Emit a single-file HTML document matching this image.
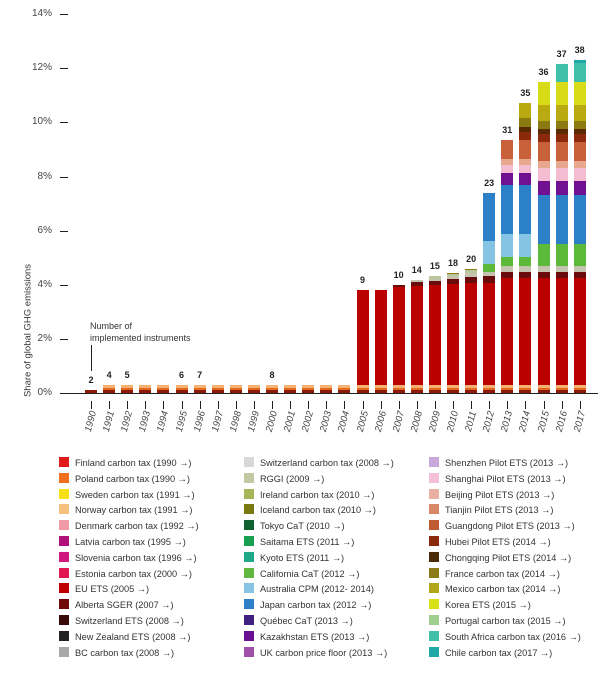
<!DOCTYPE html>
<html><head><meta charset="utf-8"><style>
body{margin:0;width:613px;height:674px;background:#fff;font-family:"Liberation Sans",sans-serif;position:relative;overflow:hidden}
.a{position:absolute}
.yl{font-size:10px;color:#444;width:30px;text-align:right;left:22px}
.tk{left:60px;width:8px;height:1px;background:#222}
.bar{position:absolute;width:12px}
.n{position:absolute;font-size:9px;font-weight:bold;color:#222;width:20px;text-align:center}
.yr{position:absolute;font-size:9.5px;color:#444;font-style:italic;transform:rotate(-75deg);transform-origin:center;width:26px;text-align:center}
.lg{position:absolute;font-size:9.2px;color:#333;white-space:nowrap}
.lg i{display:inline-block;width:10px;height:10px;vertical-align:-1px;margin-right:6px}
</style></head><body>
<div id="c"></div>
<div class="a" style="left:-52px;top:325px;transform:rotate(-90deg);font-size:9.5px;color:#333;width:160px;text-align:center;white-space:nowrap">Share of global GHG emissions</div>
<div class="a" style="left:68px;top:393px;width:530px;height:1px;background:#222"></div>
<div class="a" style="left:90px;top:320px;font-size:9px;color:#333;line-height:12px">Number of<br>implemented instruments</div>
<div class="a" style="left:91px;top:345px;width:1px;height:26px;background:#222"></div>
<script>
var h='';
var labs=['14%','12%','10%','8%','6%','4%','2%','0%'];
for(var i=0;i<8;i++){var y=14+i*54.2;h+='<div class="a yl" style="top:'+(y-6)+'px">'+labs[i]+'</div><div class="a tk" style="top:'+y+'px"></div>';}
var X0=85,DX=18.1,B=393;
var cols={red:'#bb0000',dr:'#6a0c0c',gr:'#c4c4b0',lg:'#b9c79a',grn:'#5cb93a',lb:'#86c4e4',bl:'#2b80c8',pu:'#6f1190',pk:'#f3bcd0',sa:'#e8a890',ob:'#c8603a',db:'#5a2a00',brn:'#8a2a0a',ol:'#8a7a10',mu:'#b8aa10',ye:'#d8dc18',tq:'#40c0a8',tl:'#20a8a8'};
var bars=[];
for(var k=0;k<28;k++){
 var s=[];
 if(k==0){s=[['#8b1a0a',3]];}
 else s=[['#8b1a0a',3],['#e06a20',2],['#f6b070',3]];
 bars.push(s);
}
function add(k,arr){arr.forEach(function(a){bars[k].push([cols[a[0]],a[1]]);});}
var redTop=[0,0,0,0,0,0,0,0,0,0,0,0,0,0,0,290,290,287,286,285,284,283,283,278,278,278,278,278];
for(var k=15;k<28;k++){add(k,[['red',(B-8)-redTop[k]]]);}
add(17,[['dr',2]]);
add(18,[['dr',4],['gr',2]]);
add(19,[['dr',4],['gr',2],['lg',3]]);
add(20,[['dr',5],['gr',3],['lg',2],['ol',1]]);
add(21,[['dr',6],['gr',4],['lg',3],['ol',1]]);
add(22,[['dr',7],['gr',4],['grn',8],['lb',23],['bl',48]]);
add(23,[['dr',6],['gr',6],['grn',9],['lb',23],['bl',49],['pu',12],['pk',8],['sa',6],['ob',19]]);
add(24,[['dr',6],['gr',6],['grn',9],['lb',23],['bl',49],['pu',12],['pk',8],['sa',6],['ob',19],['brn',8],['db',5],['ol',9],['mu',15]]);
for(var k=25;k<28;k++){add(k,[['dr',6],['gr',6],['grn',22],['bl',49],['pu',14],['pk',13],['sa',7],['ob',19],['brn',8],['db',5],['ol',8],['mu',16],['ye',23]]);}
add(26,[['tq',18]]);add(27,[['tq',19],['tl',3]]);
var nums={0:2,1:4,2:5,5:6,6:7,10:8,15:9,17:10,18:14,19:15,20:18,21:20,22:23,23:31,24:35,25:36,26:37,27:38};
for(var k=0;k<28;k++){
 var x=X0+k*DX,y=B;
 bars[k].forEach(function(sg){y-=sg[1];h+='<div class="bar" style="left:'+x+'px;top:'+y+'px;height:'+sg[1]+'px;background:'+sg[0]+'"></div>';});
 if(nums[k]!==undefined)h+='<div class="n" style="left:'+(x-4)+'px;top:'+(y-15)+'px">'+nums[k]+'</div>';
 h+='<div class="a" style="left:'+(x+6)+'px;top:401px;width:1px;height:8px;background:#222"></div>';
 h+='<div class="yr" style="left:'+(x-7)+'px;top:416px">'+(1990+k)+'</div>';
}
var L=[['#e01b1b','Finland carbon tax (1990 →)'],['#f07020','Poland carbon tax (1990 →)'],['#f8e018','Sweden carbon tax (1991 →)'],['#f6c080','Norway carbon tax (1991 →)'],['#f09aa8','Denmark carbon tax (1992 →)'],['#b0107a','Latvia carbon tax (1995 →)'],['#d01880','Slovenia carbon tax (1996 →)'],['#e01850','Estonia carbon tax (2000 →)'],['#c00000','EU ETS (2005 →)'],['#700808','Alberta SGER (2007 →)'],['#3a0a0a','Switzerland ETS (2008 →)'],['#222222','New Zealand ETS (2008 →)'],['#a8a8a8','BC carbon tax (2008 →)'],
['#d8d8d8','Switzerland carbon tax (2008 →)'],['#c4c8a4','RGGI (2009 →)'],['#a8b458','Ireland carbon tax (2010 →)'],['#7a7a10','Iceland carbon tax (2010 →)'],['#106030','Tokyo CaT (2010 →)'],['#18a050','Saitama ETS (2011 →)'],['#20a888','Kyoto ETS (2011 →)'],['#60b840','California CaT (2012 →)'],['#88c4e4','Australia CPM (2012- 2014)'],['#2b80c8','Japan carbon tax (2012 →)'],['#402080','Québec CaT (2013 →)'],['#6a1090','Kazakhstan ETS (2013 →)'],['#a050a8','UK carbon price floor (2013 →)'],
['#c8a8d8','Shenzhen Pilot ETS (2013 →)'],['#f4c0d8','Shanghai Pilot ETS (2013 →)'],['#e8b0a0','Beijing Pilot ETS (2013 →)'],['#d88868','Tianjin Pilot ETS (2013 →)'],['#c05a30','Guangdong Pilot ETS (2013 →)'],['#8a2a0a','Hubei Pilot ETS (2014 →)'],['#4a2a08','Chongqing Pilot ETS (2014 →)'],['#8a7a18','France carbon tax (2014 →)'],['#b0a818','Mexico carbon tax (2014 →)'],['#d8e018','Korea ETS (2015 →)'],['#a0d090','Portugal carbon tax (2015 →)'],['#40c0a8','South Africa carbon tax (2016 →)'],['#20a8a8','Chile carbon tax (2017 →)']];
L.forEach(function(l,i){var c=i<13?0:(i<26?1:2);var r=i-c*13;h+='<div class="lg" style="left:'+(59+c*185)+'px;top:'+(457+r*15.8)+'px"><i style="background:'+l[0]+'"></i>'+l[1]+'</div>';});
document.getElementById('c').innerHTML=h;
</script>
</body></html>
